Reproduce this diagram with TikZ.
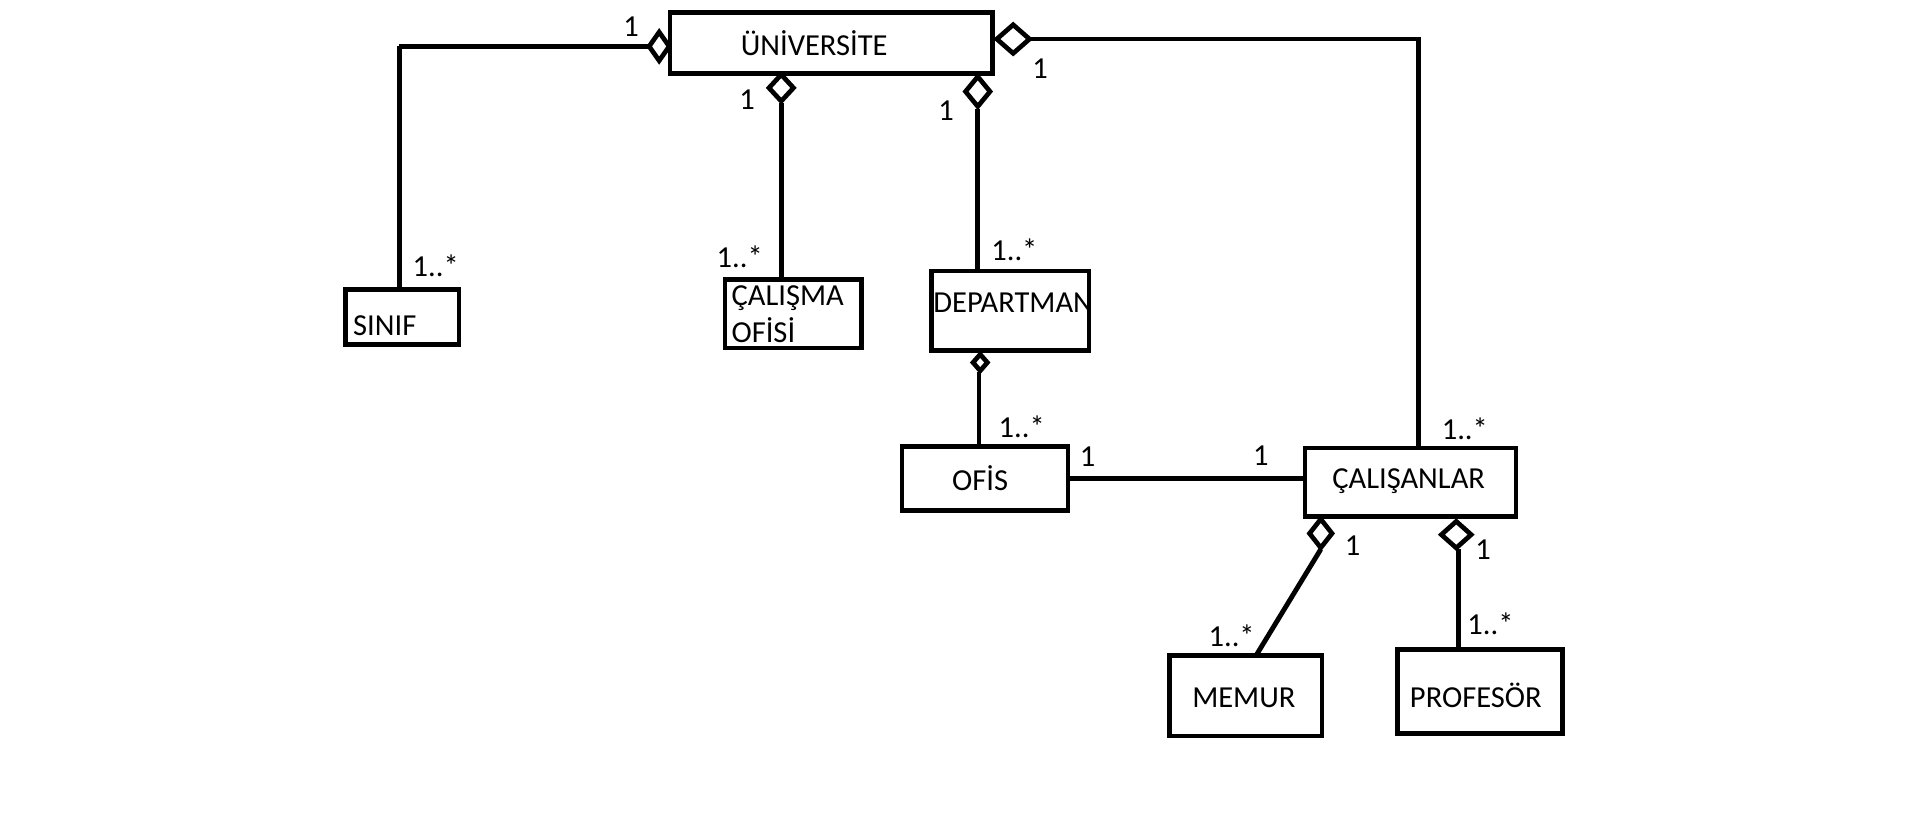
\documentclass[tikz,border=0pt]{standalone}
\usepackage{fontspec}
\setmainfont{Carlito}
\usetikzlibrary{shapes.geometric}
\begin{document}
\begin{tikzpicture}[x=0.6pt,y=-0.6pt,
  box/.style={draw,line width=2.3pt,rectangle,inner sep=0pt},
  txt/.style={font=\fontsize{15}{18}\selectfont,inner sep=0pt},
  lbl/.style={font=\fontsize{15}{18}\selectfont,inner sep=0pt},
  agg/.style={draw,line width=2.3pt,diamond,inner sep=0pt,fill=white},
  conn/.style={line width=2.4pt}]
\useasboundingbox (0,0) rectangle (1568,674);
% texts
\node[txt] (tuniv) at (667,35) {ÜNİVERSİTE};
\node[txt,anchor=west] (tsinif) at (289,267) {SINIF};
\node[txt,anchor=north west,align=left] (tcal) at (599,234) {ÇALIŞMA\\OFİSİ};
\node[txt] (tdept) at (830,248) {DEPARTMAN};
\node[txt] (tofis) at (803,392) {OFİS};
\node[txt] (tcalisan) at (1154,394) {ÇALIŞANLAR};
\node[txt] (tmemur) at (1019,572) {MEMUR};
\node[txt] (tprof) at (1209,570) {PROFESÖR};
% boxes
\node[box,minimum width=158.4pt,minimum height=30pt] (univ) at (681,35) {};
\node[box,minimum width=55.8pt,minimum height=27pt] (sinif) at (329.5,259.5) {};
\node[box,minimum width=67.2pt,minimum height=33.6pt] (calisma) at (650,257) {};
\node[box,minimum width=77.4pt,minimum height=39pt] (dept) at (827.5,254.5) {};
\node[box,minimum width=81.6pt,minimum height=31.2pt] (ofis) at (807,392) {};
\node[box,minimum width=103.8pt,minimum height=33.6pt] (calisan) at (1155.5,395) {};
\node[box,minimum width=75pt,minimum height=39.6pt] (memur) at (1020.5,570) {};
\node[box,minimum width=81pt,minimum height=41.4pt] (prof) at (1212.5,566.5) {};
% connectors
\coordinate (cL) at (327,38);
\coordinate (cR) at (1162,32);
\draw[conn] (cL) -- (531,38);
\draw[conn] (cL) -- (cL |- sinif.north);
\draw[conn] (845,32) -- (cR) -- (cR |- calisan.north);
\draw[conn] (640,84) -- (calisma.north -| 640,0);
\draw[conn] (801,89) -- (dept.north -| 801,0);
\draw[conn] (802,305) -- (ofis.north -| 802,0);
\draw[conn] (ofis.east) -- (calisan.west |- ofis.east);
\draw[conn] (1082,450) -- (1029,537);
\draw[conn] (1195,450) -- (prof.north -| 1195,0);
% diamonds
\node[agg,minimum width=10.8pt,minimum height=15pt] (dL) at (540,38) {};
\node[agg,minimum width=17pt,minimum height=15pt] (dR) at (830,32) {};
\node[agg,minimum width=13pt,minimum height=14pt] (dB1) at (640,72) {};
\node[agg,minimum width=13pt,minimum height=15.6pt] (dB2) at (801,75) {};
\node[agg,minimum width=8pt,minimum height=9pt] (dD) at (803,297) {};
\node[agg,minimum width=12pt,minimum height=15pt] (dC1) at (1082,437) {};
\node[agg,minimum width=15.6pt,minimum height=14pt] (dC2) at (1193,438) {};
% multiplicities
\node[lbl] (m1) at (517,22) {1};
\node[lbl] (m2) at (852,56) {1};
\node[lbl] (m3) at (612,82) {1};
\node[lbl] (m4) at (775,91) {1};
\node[lbl] (m5) at (357,218) {1..*};
\node[lbl] (m6) at (606,210) {1..*};
\node[lbl] (m7) at (831,205) {1..*};
\node[lbl] (m8) at (837,350) {1..*};
\node[lbl] (m9) at (891,374) {1};
\node[lbl] (m10) at (1033,373) {1};
\node[lbl] (m11) at (1200,351) {1..*};
\node[lbl] (m12) at (1108,447) {1};
\node[lbl] (m13) at (1215,450) {1};
\node[lbl] (m14) at (1009,521) {1..*};
\node[lbl] (m15) at (1221,511) {1..*};
\end{tikzpicture}
\end{document}
